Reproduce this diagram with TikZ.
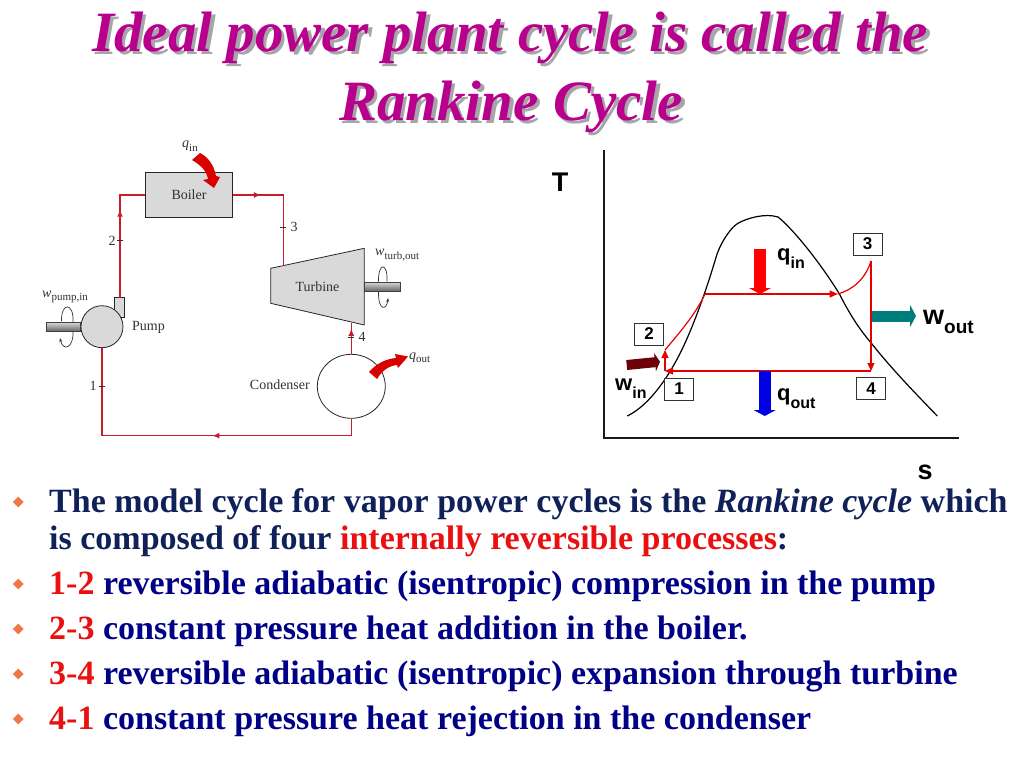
\documentclass[tikz,border=0pt]{standalone}
\usepackage{fontspec}
\setmainfont{Liberation Serif}
\setsansfont{Liberation Sans}
\usepackage{xcolor}
\usetikzlibrary{arrows.meta,positioning,shapes.geometric,decorations.markings}
\definecolor{titlepink}{RGB}{184,0,140}
\definecolor{titleshade}{RGB}{165,165,170}
\definecolor{leadnavy}{RGB}{16,32,88}
\definecolor{bodyblue}{RGB}{0,0,135}
\definecolor{numred}{RGB}{232,16,16}
\definecolor{pipered}{RGB}{200,28,44}
\definecolor{bulletorange}{RGB}{240,120,70}
\definecolor{labelgray}{RGB}{50,50,50}
\definecolor{partgray}{RGB}{217,217,217}
\definecolor{wintip}{RGB}{110,0,8}
\definecolor{wouttip}{RGB}{0,125,125}
\newcommand{\lowtxt}[1]{\raisebox{-.37em}{\fontsize{16}{16}\selectfont #1}}
\newcommand{\partsub}[1]{\raisebox{-.25em}{\fontsize{11}{11}\selectfont #1}}
\tikzset{
  titletext/.style = {font = {\fontsize{57}{60}\selectfont\bfseries\itshape}},
  bodytext/.style = {anchor = base west, inner sep = 0, font = {\fontsize{34}{36}\selectfont\bfseries}},
  bulletmark/.style = {diamond, fill = bulletorange, minimum size = 11pt, inner sep = 0},
  partbox/.style = {draw = black!85, fill = partgray, line width = .8pt},
  partlabel/.style = {text = labelgray, inner sep = 0, font = {\fontsize{14}{16}\selectfont}},
  pipe/.style = {draw = pipered, line width = 1.4pt},
  pipetip/.style = {decoration = {markings, mark = at position #1 with {\arrow[pipered]{Latex[length=7pt,width=6pt]}}}, postaction = {decorate}},
  shaftbar/.style = {draw = black!75, top color = black!15, bottom color = black!60, line width = .6pt},
  heatflow/.style = {draw = none, fill = red!85!black},
  spin/.style = {draw = black!80, line width = .7pt},
  statebox/.style = {draw = black!80, fill = white, line width = .7pt, minimum width = 29pt, minimum height = 22pt, inner sep = 0, font = {\fontsize{17}{18}\selectfont\sffamily\bfseries}},
  cycleline/.style = {draw = red!90!black, line width = 1.2pt},
  cycletip/.style = {-{Triangle[length=8pt,width=7pt]}},
  bigarrow/.style = {line width = #1, -{Triangle[length=6pt,width=22pt]}},
  chartlabel/.style = {inner sep = 0, font = {\fontsize{22}{24}\selectfont\sffamily\bfseries}}
}
\begin{document}
\begin{tikzpicture}[x = 1pt, y = -1pt]
\useasboundingbox (0,0) rectangle (1024,768);
% title
\node[titletext, text = titleshade, anchor = base] (titleshadeA) at (513.5,55) {Ideal power plant cycle is called the};
\node[titletext, text = titleshade, anchor = base] (titleshadeB) at (514.5,123) {Rankine Cycle};
\node[titletext, text = titlepink, anchor = base] (titleA) at (510,52) {Ideal power plant cycle is called the};
\node[titletext, text = titlepink, anchor = base] (titleB) at (511,120) {Rankine Cycle};

% plant schematic
\node[partbox, minimum width = 87.5pt, minimum height = 44.5pt, inner sep = 0, partlabel] (boiler) at (189,195) {Boiler};
\draw[partbox] (114.7,297.7) rectangle (124.7,317);
\node[partbox, circle, minimum size = 42pt, inner sep = 0] (pump) at (102,326.7) {};
\node[partlabel, anchor = west] (pumplabel) at (132,327) {Pump};
\node[partlabel, anchor = east] (condlabel) at (310,385) {Condenser};
\node[draw = black!85, fill = white, ellipse, line width = .8pt, minimum width = 68pt, minimum height = 64pt, inner sep = 0] (condenser) at (351.3,386.3) {};
\draw[partbox] (270.7,268.3) -- (364.3,248.3) -- (364.3,325) -- (270.7,303.3) -- cycle;
\node[partlabel] (turbine) at (317.5,287) {Turbine};
\coordinate (pumpout) at (120,297.7);
\coordinate (turbinein) at (283.3,265.5);
\coordinate (turbineout) at (351.3,322.5);
\coordinate (pumpin) at (102,347.7);
\coordinate (cornerA) at (120,195);
\coordinate (cornerB) at (283.3,195);
\coordinate (cornerC) at (351.3,435.7);
\coordinate (cornerD) at (102,435.7);
\draw[pipe, pipetip = .69] (pumpout) -- (cornerA) -- (boiler.west);
\draw[pipe, pipetip = .23] (boiler.east) -- (cornerB) -- (turbinein);
\draw[pipe, pipetip = .8] (condenser.north) -- (turbineout);
\draw[pipe, pipetip = .44] (condenser.south) -- (cornerC) -- (cornerD) -- (pumpin);
\draw[draw = black!80, line width = .5pt] (117,240.5) -- (123,240.5) (280.3,227) -- (286.3,227) (348.3,337) -- (354.3,337) (99,386) -- (105,386);
\node[partlabel] (portA) at (93,386) {1};
\node[partlabel] (portB) at (112,241) {2};
\node[partlabel] (portC) at (294,227) {3};
\node[partlabel] (portD) at (362,337) {4};
\draw[shaftbar] (46.7,322.3) rectangle (80.5,331);
\draw[shaftbar] (364.3,282) rectangle (400,291);
\draw[spin] (61.5,321) .. controls (61,302) and (74,302) .. (73,322);
\draw[spin, -{Stealth[length=4pt]}] (73,331) .. controls (74,348) and (63,352) .. (60,338);
\draw[spin] (378.5,281.5) .. controls (378,262) and (388,262) .. (387,281.5);
\draw[spin, -{Stealth[length=4pt]}] (378.5,291.5) .. controls (378,312) and (387,310) .. (388,298);
\node[partlabel, anchor = west] (pumpwork) at (42,297) {\textit{w}\partsub{pump,in}};
\node[partlabel, anchor = west] (turbwork) at (375,255) {\textit{w}\partsub{turb,out}};
\node[partlabel, anchor = west] (boilerheat) at (182,146) {\textit{q}\partsub{in}};
\node[partlabel, anchor = west] (condheat) at (409,358) {\textit{q}\partsub{out}};
% curved heat arrows
\draw[heatflow] (192,160) -- (200,153) .. controls (208,157) and (214,165) .. (216,176) -- (220,177) -- (214,188) -- (203,180) -- (208,179) .. controls (207,172) and (201,165) .. (192,160);
\draw[heatflow] (369,372) .. controls (376,364) and (385,359) .. (396,358) -- (395,354) -- (408,356.5) -- (398,368) -- (397,365) .. controls (388,366) and (382,371) .. (377,379) -- cycle;

% T-s chart
\coordinate (axistop) at (604.3,150);
\coordinate (origin) at (604.3,437.7);
\coordinate (axisend) at (959.3,437.7);
\draw[line width = 2pt, black!90] (axistop) -- (origin) -- (axisend);
\node[chartlabel, font = {\fontsize{27}{28}\selectfont\sffamily\bfseries}] (tlabel) at (560,182) {T};
\node[chartlabel, font = {\fontsize{27}{28}\selectfont\sffamily\bfseries}] (slabel) at (925,472) {s};
\draw[black, line width = 1.2pt] (627.3,416) .. controls (650,405) and (670,375) .. (683.3,346.7) .. controls (695,322) and (708,285) .. (716.7,255) .. controls (722,240) and (732,226) .. (739,222.7) .. controls (748,218) and (765,213) .. (778,217) .. controls (792,228) and (820,262) .. (840,295) .. controls (850,315) and (860,330) .. (872,344) .. controls (890,367) and (915,393) .. (937.3,416);
\coordinate (stateA) at (665,371);
\coordinate (stateAb) at (665,350);
\coordinate (stateB) at (705,294);
\coordinate (stateBb) at (837.7,294);
\coordinate (stateC) at (871,261);
\coordinate (stateD) at (871,371);
\draw[cycleline, cycletip] (stateA) -- (stateAb);
\draw[cycleline] (stateAb) .. controls (680,332) and (695,315) .. (stateB);
\draw[cycleline, cycletip] (stateB) -- (stateBb);
\draw[cycleline] (stateBb) .. controls (852,290) and (865,280) .. (stateC);
\draw[cycleline, cycletip] (stateC) -- (stateD);
\draw[cycleline, cycletip] (stateD) -- (stateA);
\node[statebox] (boxA) at (679,389) {1};
\node[statebox] (boxB) at (649,334) {2};
\node[statebox] (boxC) at (867.5,244) {3};
\node[statebox] (boxD) at (871,388.5) {4};
\coordinate (qinA) at (760,249);
\coordinate (qinB) at (760,294);
\coordinate (qoutA) at (764.7,371);
\coordinate (qoutB) at (764.7,416);
\coordinate (woutA) at (871.7,316);
\coordinate (woutB) at (916,316);
\coordinate (winA) at (626.7,365);
\coordinate (winB) at (660,361.7);
\draw[bigarrow = 11.5pt, red] (qinA) -- (qinB);
\draw[bigarrow = 12pt, blue!90!black] (qoutA) -- (qoutB);
\draw[bigarrow = 11pt, wouttip] (woutA) -- (woutB);
\draw[line width = 10pt, wintip, -{Triangle[length=5pt,width=18pt]}] (winA) -- (winB);
\node[chartlabel, anchor = base west] (qinlabel) at (777,260) {q\lowtxt{in}};
\node[chartlabel, anchor = base west] (qoutlabel) at (777,400) {q\lowtxt{out}};
\node[chartlabel, anchor = base west, font = {\fontsize{27}{28}\selectfont\sffamily\bfseries}] (woutlabel) at (923,324) {w\raisebox{-.37em}{\fontsize{19}{19}\selectfont out}};
\node[chartlabel, anchor = base west] (winlabel) at (615,390) {w\lowtxt{in}};

% bullet text
\node[bulletmark] (bulA) at (18.3,502) {};
\node[bulletmark] (bulB) at (18.3,584) {};
\node[bulletmark] (bulC) at (18.3,629) {};
\node[bulletmark] (bulD) at (18.3,674) {};
\node[bulletmark] (bulE) at (18.3,719) {};
\node[bodytext, text = leadnavy] (lineA) at (49,512) {The model cycle for vapor power cycles is the \textit{Rankine cycle} which};
\node[bodytext, text = leadnavy] (lineB) at (49,549) {is composed of four \textcolor{numred}{internally reversible processes}:};
\node[bodytext, text = bodyblue] (lineC) at (49,594) {\textcolor{numred}{1-2} reversible adiabatic (isentropic) compression in the pump};
\node[bodytext, text = bodyblue] (lineD) at (49,639) {\textcolor{numred}{2-3} constant pressure heat addition in the boiler.};
\node[bodytext, text = bodyblue] (lineE) at (49,684) {\textcolor{numred}{3-4} reversible adiabatic (isentropic) expansion through turbine};
\node[bodytext, text = bodyblue] (lineF) at (49,729) {\textcolor{numred}{4-1} constant pressure heat rejection in the condenser};
\end{tikzpicture}
\end{document}
